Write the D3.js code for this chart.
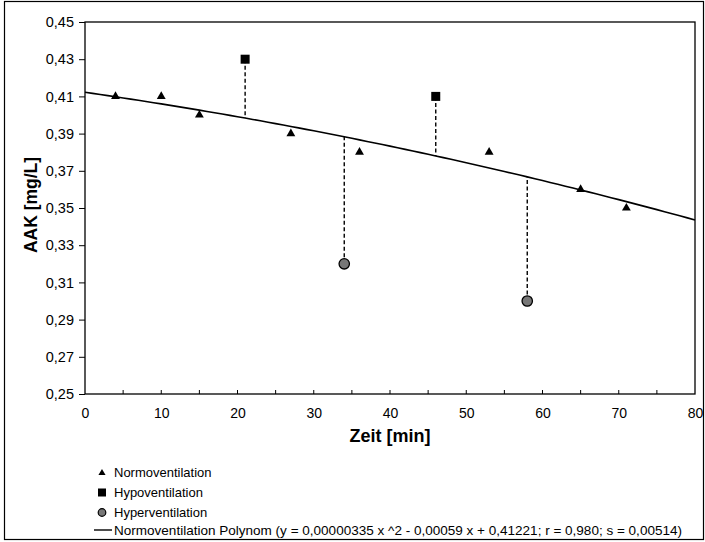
<!DOCTYPE html>
<html lang="de"><head>
<meta charset="utf-8">
<title>AAK</title>
<script src="https://cdn.jsdelivr.net/npm/d3@7"></script>
<style>
  body { margin: 0; background: #fff; }
  text { font-family: "Liberation Sans", Arial, sans-serif; fill: #000; }
</style>
</head>
<body>
<svg width="705" height="542"></svg>
<script>
// data
var normoZeit = [4, 10, 15, 27, 36, 53, 65, 71];
var normoAAK  = [0.41, 0.41, 0.40, 0.39, 0.38, 0.38, 0.36, 0.35];
var hypoZeit  = [21, 46];
var hypoAAK   = [0.43, 0.41];
var hyperZeit = [34, 58];
var hyperAAK  = [0.32, 0.30];
// fitted polynomial as drawn (a x^2 + b x + c)
var polyCoef = [-0.00000335, -0.00059, 0.41221];
var yTicks = [0.25, 0.27, 0.29, 0.31, 0.33, 0.35, 0.37, 0.39, 0.41, 0.43, 0.45];
var xTicks = [0, 10, 20, 30, 40, 50, 60, 70, 80];
var legendLabels = ["Normoventilation", "Hypoventilation", "Hyperventilation",
  "Normoventilation Polynom (y = 0,00000335 x ^2 - 0,00059 x + 0,41221; r = 0,980; s = 0,00514)"];

var svg = d3.select("svg");
var fmt = function(d) { return d3.format(".2f")(d).replace(".", ","); };
function poly(x) { return polyCoef[0]*x*x + polyCoef[1]*x + polyCoef[2]; }

var x = d3.scaleLinear().domain([0, 80]).range([85, 695]);
var y = d3.scaleLinear().domain([0.25, 0.45]).range([394, 22]);

// outer frame
svg.append("rect").attr("x", 4.5).attr("y", 1.5).attr("width", 699).attr("height", 538)
   .attr("fill", "none").attr("stroke", "#000").attr("stroke-width", 1.2);

// plot frame
svg.append("rect").attr("x", x(0)).attr("y", y(0.45))
   .attr("width", x(80) - x(0)).attr("height", y(0.25) - y(0.45))
   .attr("fill", "none").attr("stroke", "#000").attr("stroke-width", 1.3);

// y axis
svg.append("g").attr("transform", "translate(" + x(0) + ",0)")
   .call(d3.axisLeft(y).tickValues(yTicks).tickFormat(fmt).tickSize(6).tickPadding(5))
   .call(function(g) { g.select(".domain").remove(); })
   .selectAll("text").style("font-size", "14.5px");

// x axis labels
svg.append("g").attr("transform", "translate(0," + y(0.25) + ")")
   .call(d3.axisBottom(x).tickValues(xTicks).tickFormat(d3.format("d")).tickSize(0).tickPadding(14))
   .call(function(g) { g.select(".domain").remove(); })
   .selectAll("text").style("font-size", "14px");

// inner x ticks every 5
svg.append("g").selectAll("line").data(d3.range(5, 80, 5)).enter().append("line")
   .attr("x1", function(d) { return x(d); }).attr("x2", function(d) { return x(d); })
   .attr("y1", y(0.25)).attr("y2", y(0.25) - 4)
   .attr("stroke", "#000").attr("stroke-width", 1);

// axis titles
svg.append("text").attr("x", (x(0) + x(80)) / 2).attr("y", 442)
   .attr("text-anchor", "middle").attr("font-weight", "bold").style("font-size", "18px")
   .text("Zeit [min]");
svg.append("text").attr("transform", "translate(37,205) rotate(-90)")
   .attr("text-anchor", "middle").attr("font-weight", "bold").style("font-size", "17.5px")
   .text("AAK [mg/L]");

// polynomial curve
var curve = d3.range(0, 80.5, 1).map(function(t) { return [t, poly(t)]; });
svg.append("path").datum(curve)
   .attr("d", d3.line().x(function(d) { return x(d[0]); }).y(function(d) { return y(d[1]); }))
   .attr("fill", "none").attr("stroke", "#000").attr("stroke-width", 1.6);

// dashed drop lines
var offPts = hypoZeit.map(function(t, i) { return [t, hypoAAK[i]]; })
   .concat(hyperZeit.map(function(t, i) { return [t, hyperAAK[i]]; }));
svg.append("g").selectAll("line").data(offPts).enter().append("line")
   .attr("x1", function(d) { return x(d[0]); }).attr("x2", function(d) { return x(d[0]); })
   .attr("y1", function(d) { return y(d[1]); }).attr("y2", function(d) { return y(poly(d[0])); })
   .attr("stroke", "#000").attr("stroke-width", 1.4).attr("stroke-dasharray", "4,2.5");

// markers
var tri = d3.symbol().type(d3.symbolTriangle).size(34);
svg.append("g").selectAll("path").data(normoZeit).enter().append("path")
   .attr("d", tri)
   .attr("transform", function(d, i) { return "translate(" + x(d) + "," + y(normoAAK[i]) + ")"; })
   .attr("fill", "#000");

svg.append("g").selectAll("rect").data(hypoZeit).enter().append("rect")
   .attr("x", function(d) { return x(d) - 4.5; })
   .attr("y", function(d, i) { return y(hypoAAK[i]) - 4.5; })
   .attr("width", 9).attr("height", 9).attr("fill", "#000");

svg.append("g").selectAll("circle").data(hyperZeit).enter().append("circle")
   .attr("cx", function(d) { return x(d); })
   .attr("cy", function(d, i) { return y(hyperAAK[i]); })
   .attr("r", 5.2).attr("fill", "#777").attr("stroke", "#000").attr("stroke-width", 1.3);

// legend
var lg = svg.append("g");
var ly = [472, 492, 512, 530];
lg.selectAll("text").data(legendLabels).enter().append("text")
   .attr("x", 114).attr("y", function(d, i) { return ly[i] + 5; })
   .style("font-size", "13px")
   .attr("textLength", function(d, i) { return i === 3 ? 568 : null; })
   .attr("lengthAdjust", "spacingAndGlyphs")
   .text(function(d) { return d; });
lg.append("path").attr("d", d3.symbol().type(d3.symbolTriangle).size(22))
   .attr("transform", "translate(102," + (ly[0] + 1) + ")").attr("fill", "#000");
lg.append("rect").attr("x", 98).attr("y", ly[1] - 3.5).attr("width", 8).attr("height", 8).attr("fill", "#000");
lg.append("circle").attr("cx", 102).attr("cy", ly[2] + 0.5).attr("r", 3.8)
   .attr("fill", "#777").attr("stroke", "#000").attr("stroke-width", 1.2);
lg.append("line").attr("x1", 94).attr("x2", 112).attr("y1", ly[3]).attr("y2", ly[3])
   .attr("stroke", "#000").attr("stroke-width", 1.4);
</script>
</body>
</html>
